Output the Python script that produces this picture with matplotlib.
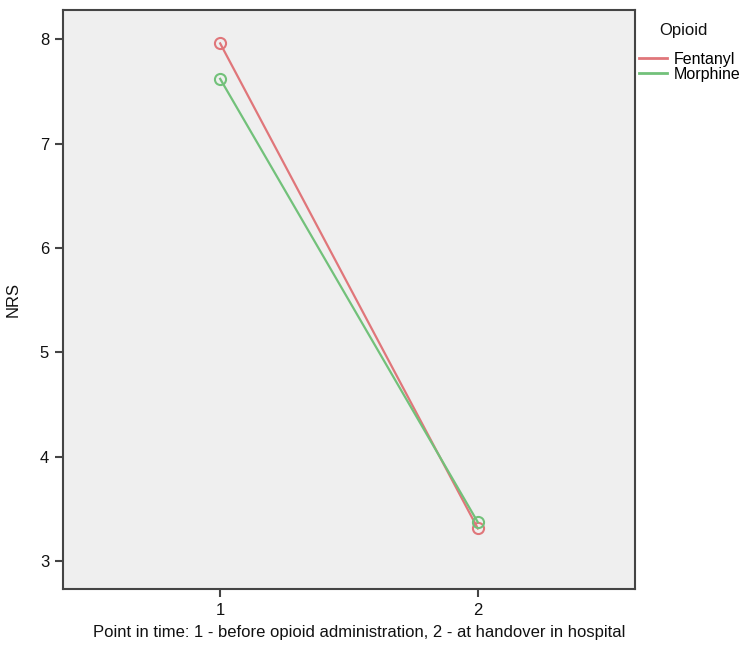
import matplotlib
matplotlib.use('Agg')
import matplotlib.pyplot as plt

# Data
time_points = [1, 2]
fentanyl = [7.96, 3.31]
morphine = [7.62, 3.37]
series_names = ['Fentanyl', 'Morphine']
series_colors = ['#e0767a', '#72c17a']

plt.rcParams['font.family'] = ['Liberation Sans', 'DejaVu Sans']

W, H = 743, 645
fig = plt.figure(figsize=(W / 100, H / 100), dpi=100)
ax = fig.add_axes([63 / W, 56 / H, 572 / W, 579 / H])
ax.set_facecolor('#efefef')

for vals, name, col in zip([fentanyl, morphine], series_names, series_colors):
    ax.plot(time_points, vals, color=col, linewidth=1.6, marker='o', markersize=8,
            markerfacecolor='none', markeredgecolor=col, markeredgewidth=1.5, label=name)

ax.set_xlim(0.39, 2.61)
ax.set_ylim(2.73, 8.28)
ax.set_xticks(time_points)
ax.set_yticks([3, 4, 5, 6, 7, 8])

for sp in ax.spines.values():
    sp.set_color('#444444')
    sp.set_linewidth(1.5)
ax.tick_params(direction='out', length=6, width=1.5, color='#444444', labelsize=12,
               labelcolor='#111111', pad=4)

ax.set_xlabel('Point in time: 1 - before opioid administration, 2 - at handover in hospital',
              fontsize=12, color='#111111')
ax.xaxis.set_label_coords(0.518, -0.062)
ax.set_ylabel('NRS', fontsize=12, color='#111111', labelpad=14)

# legend outside the plot, title drawn separately
fig.text(659 / W, 1 - 30 / H, 'Opioid', fontsize=12, color='#111111', ha='left', va='center')
leg = fig.legend(loc='upper left', bbox_to_anchor=(639 / W, 1 - 52 / H), frameon=False,
                 fontsize=11.5, handlelength=1.75, handletextpad=0.42,
                 labelspacing=0.0, borderpad=0, borderaxespad=0)
for h in leg.legend_handles:
    h.set_marker('')
    h.set_linewidth(2)

fig.savefig('out.png', dpi=100)
